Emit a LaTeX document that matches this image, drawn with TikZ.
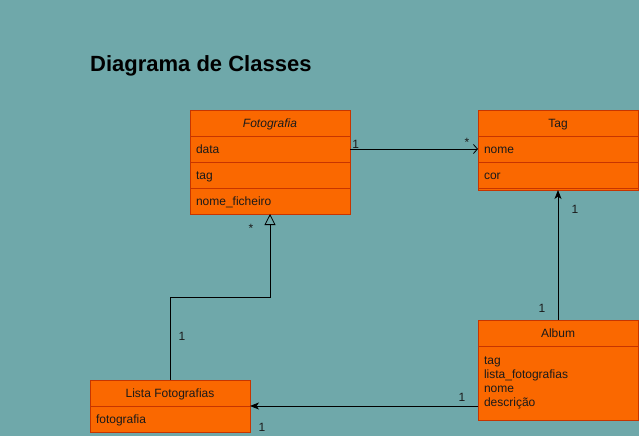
\documentclass[tikz,border=0pt]{standalone}
\usepackage{fontspec}
\setmainfont{Liberation Sans}
\usetikzlibrary{arrows.meta, positioning}
\definecolor{umlBg}{HTML}{6FA8AA}
\definecolor{umlOrange}{HTML}{FA6800}
\definecolor{umlLine}{HTML}{C73500}
\definecolor{umlText}{HTML}{1A1A1A}

\begin{document}
\begin{tikzpicture}[x=1pt, y=1pt,
  cbox/.style={draw=umlLine, fill=umlOrange, line width=0.9pt, minimum width=160pt,
               minimum height=26pt, inner sep=0pt, outer sep=0pt,
               font=\fontsize{12}{14}\selectfont, text=umlText},
  chead/.style={cbox, text height=11pt, text depth=1.2pt},
  crow/.style={chead, text width=148pt, align=left},
  cbody/.style={cbox, text width=148pt, align=left},
  lbl/.style={font=\fontsize{12}{14}\selectfont, text=umlText, inner sep=0pt},
  link/.style={draw=black, line width=0.8pt},
  dep/.style={link, -{Stealth[length=9pt, width=7pt, inset=2.5pt]}},
  assoc/.style={link, -{Straight Barb[length=4pt, width=9pt]}},
  gen/.style={link, -{Triangle[open, length=11pt, width=11pt, fill=umlBg]}},
]
\useasboundingbox[fill=umlBg] (0,0) rectangle (639,-436);

% --- titulo ---
\node[anchor=base west, inner sep=0pt, font=\fontsize{22}{26}\selectfont\bfseries, text=black]
  (title) at (90,-71.5) {Diagrama de Classes};

% --- Fotografia ---
\node[chead, anchor=north west, font=\fontsize{12}{14}\selectfont\itshape] (fot) at (190,-110) {Fotografia};
\node[crow, below=0pt of fot] (fotdata) {data};
\node[crow, below=0pt of fotdata] (fottag) {tag};
\node[crow, below=0pt of fottag] (fotnome) {nome\_ficheiro};

% --- Tag ---
\node[chead, anchor=north west] (tag) at (478,-110) {Tag};
\node[crow, below=0pt of tag] (tagnome) {nome};
\node[crow, below=0pt of tagnome] (tagcor) {cor};
\node[cbody, below=0pt of tagcor, minimum height=2pt] (tagsep) {};

% --- Album ---
\node[chead, anchor=north west] (alb) at (478,-320) {Album};
\node[cbody, below=0pt of alb, minimum height=74pt] (albbody)
  {tag\\lista\_fotografias\\nome\\descrição};

% --- Lista Fotografias ---
\node[chead, anchor=north west] (lst) at (90,-380) {Lista Fotografias};
\node[crow, below=0pt of lst] (lstfot) {fotografia};

% --- ligacoes ---
\draw[assoc] (fotdata.east) -- (tagnome.west)
  node[lbl, pos=0.045, yshift=5pt] {1}
  node[lbl, pos=0.914, yshift=7pt] {*};
\draw[gen] (lst.north) -- node[lbl, pos=0.52, xshift=12pt] {1} ++(0,83)
  -| node[lbl, pos=0.916, xshift=-19pt] {*} (fotnome.south);
\draw[dep] (alb.north) -- (tagsep.south)
  node[lbl, pos=0.09, xshift=-16pt] {1}
  node[lbl, pos=0.854, xshift=17pt] {1};
\draw[dep] (albbody.west |- lst.south east) -- (lst.south east)
  node[lbl, pos=0.07, yshift=8.5pt] {1}
  node[lbl, pos=0.947, yshift=-21pt] {1};
\end{tikzpicture}
\end{document}
